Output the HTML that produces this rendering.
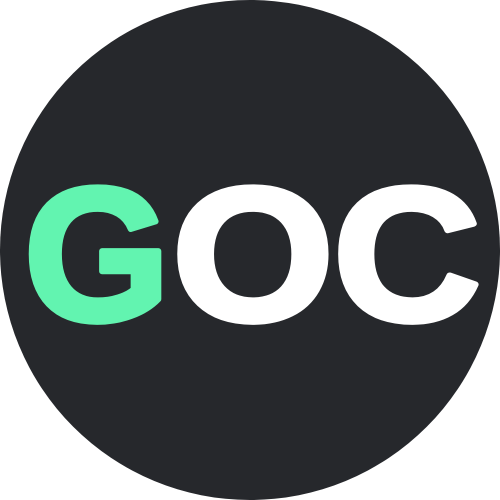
<!DOCTYPE html>
<html><head><meta charset="utf-8"><style>html,body{margin:0;padding:0;background:#fff;width:500px;height:500px;overflow:hidden}</style></head>
<body>
<svg width="500" height="500" viewBox="0 0 500 500">
<circle cx="250" cy="250" r="250" fill="#26282c"/>
<g font-family="'Liberation Sans', sans-serif" font-weight="bold" font-size="190" stroke-width="6" stroke-linejoin="round">
<text x="24" y="320" textLength="146" lengthAdjust="spacingAndGlyphs" fill="#62f4b0" stroke="#62f4b0">G</text>
<text x="172" y="320" textLength="162" lengthAdjust="spacingAndGlyphs" fill="#ffffff" stroke="#ffffff">O</text>
<text x="333" y="320" textLength="148" lengthAdjust="spacingAndGlyphs" fill="#ffffff" stroke="#ffffff">C</text>
</g>
</svg>
</body></html>
